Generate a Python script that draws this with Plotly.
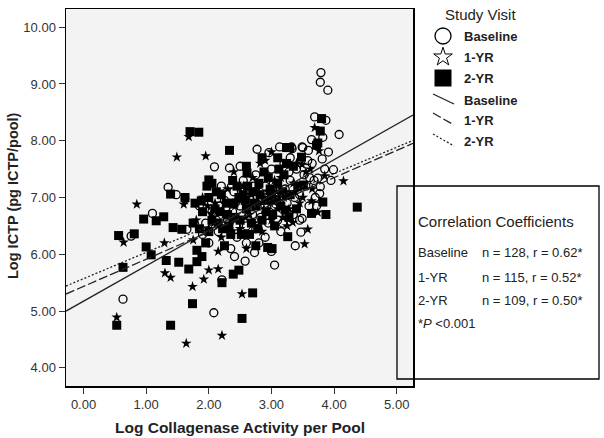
import plotly.graph_objects as go

FW, FH = 604, 438

# ---------------- data ----------------
series_names = ["Baseline", "1-YR", "2-YR"]

baseline_points = [
    (3.79, 9.20), (3.78, 9.03), (3.90, 8.89), (3.69, 8.42), (3.87, 8.36), (4.08, 8.11),
    (3.82, 8.06), (3.64, 8.02), (3.91, 7.80), (3.59, 7.83), (3.50, 7.88), (3.33, 7.86),
    (3.81, 7.68), (3.99, 7.49), (3.74, 7.34), (3.61, 7.35), (3.78, 7.19), (3.77, 7.07),
    (2.77, 7.85), (2.96, 7.79), (3.13, 7.89), (3.32, 7.89), (3.49, 7.89), (2.09, 7.54),
    (2.33, 7.52), (1.35, 7.18), (1.48, 7.05), (1.10, 6.72), (0.76, 6.32), (0.63, 5.21),
    (2.21, 5.55), (3.05, 5.81), (2.08, 4.97), (2.41, 5.96), (2.58, 5.88), (2.73, 6.03),
    (3.45, 6.60), (3.49, 6.63), (3.47, 6.39), (1.65, 6.44),
    (1.85, 6.85), (1.95, 6.55), (2.05, 6.75), (2.15, 6.40), (2.25, 6.95), (2.30, 6.60),
    (2.40, 7.10), (2.45, 6.30), (2.50, 6.85), (2.55, 7.30), (2.60, 6.50), (2.65, 7.00),
    (2.70, 6.70), (2.75, 7.40), (2.80, 6.20), (2.85, 6.95), (2.90, 7.20), (2.95, 6.55),
    (3.00, 7.50), (3.05, 6.85), (3.10, 7.10), (3.15, 6.40), (3.20, 7.60), (3.25, 6.90),
    (3.30, 7.30), (3.35, 6.70), (3.40, 7.50), (3.45, 7.05), (3.55, 7.20), (3.60, 6.85),
    (3.65, 7.60), (3.70, 7.00), (2.00, 6.20), (2.35, 6.10), (2.60, 6.20), (2.90, 6.30),
    (3.10, 6.60), (2.20, 7.20), (1.90, 6.35), (3.85, 7.50), (3.95, 7.30), (3.30, 7.70),
    (2.50, 7.55), (3.00, 6.05), (2.75, 6.45), (3.38, 6.15),
    (2.12, 6.60), (2.27, 6.80), (2.43, 6.50), (2.52, 7.10), (2.63, 6.90), (2.72, 7.20),
    (2.83, 6.65), (2.93, 7.00), (3.03, 7.25), (3.13, 6.90), (3.22, 7.15), (3.28, 7.45),
    (3.37, 7.00), (3.52, 7.40), (3.58, 7.65), (3.68, 7.30), (3.72, 6.85), (2.38, 6.75),
    (2.18, 6.85), (3.18, 6.55),
]

yr1_points = [
    (3.69, 8.23), (3.76, 7.82), (3.49, 7.58), (4.15, 7.29), (3.85, 7.38), (1.68, 8.07),
    (1.95, 7.73), (1.49, 7.71), (2.82, 7.60), (3.00, 7.80), (1.60, 6.88), (0.85, 6.88),
    (0.64, 6.21), (1.29, 6.20), (1.30, 5.67), (1.39, 5.59), (1.74, 5.43), (0.53, 4.89),
    (1.64, 4.43), (2.04, 6.72), (2.00, 5.72), (2.15, 5.74), (1.92, 5.56), (2.53, 5.30),
    (2.21, 4.57), (3.74, 6.74), (3.64, 6.94), (3.34, 6.56), (3.58, 6.44), (3.53, 6.18),
    (1.62, 6.95),
    (1.80, 6.60), (1.90, 7.00), (2.00, 6.45), (2.10, 6.90), (2.20, 6.30), (2.30, 7.15),
    (2.35, 6.60), (2.45, 6.95), (2.50, 6.45), (2.55, 7.20), (2.65, 6.70), (2.70, 7.35),
    (2.80, 6.90), (2.85, 6.40), (2.95, 7.10), (3.05, 7.30), (3.10, 6.80), (3.20, 7.00),
    (3.25, 6.50), (3.35, 7.25), (3.45, 6.90), (3.55, 7.45), (3.65, 7.15), (2.40, 7.45),
    (2.15, 6.05), (2.60, 6.10), (3.00, 6.60), (1.75, 6.25), (2.90, 7.65), (3.40, 7.60),
    (2.08, 6.55), (2.25, 6.70), (2.42, 6.85), (2.58, 6.65), (2.68, 7.05), (2.78, 7.15),
    (2.88, 6.80), (2.98, 6.90), (3.08, 7.10), (3.15, 7.35), (3.28, 6.80), (3.38, 7.10),
    (3.50, 7.00), (3.62, 7.50), (1.98, 6.85), (2.32, 6.45), (2.72, 6.55), (3.18, 6.65),
]

yr2_points = [
    (3.80, 8.39), (3.78, 8.17), (3.74, 7.96), (3.72, 7.92), (3.24, 7.88), (3.29, 7.88),
    (3.48, 7.71), (3.24, 7.60), (3.51, 7.22), (1.70, 8.16), (1.84, 8.15), (2.33, 7.83),
    (2.00, 7.31), (2.05, 7.25), (1.97, 7.20), (2.61, 7.43), (4.37, 6.83), (3.82, 6.92),
    (3.64, 6.72), (3.87, 6.70), (1.62, 7.00), (1.88, 6.94), (1.39, 7.06), (0.96, 6.62),
    (1.16, 6.59), (1.28, 6.66), (1.43, 6.47), (1.57, 6.44), (0.56, 6.33), (0.81, 6.36),
    (1.00, 6.13), (1.08, 5.99), (0.63, 5.77), (1.32, 5.89), (1.52, 5.86), (1.68, 5.74),
    (1.74, 5.13), (0.53, 4.75), (1.39, 4.75), (1.81, 6.07), (1.81, 5.87), (2.39, 5.65),
    (2.48, 5.72), (2.21, 5.50), (2.70, 5.32), (2.53, 4.87), (3.01, 6.10), (2.94, 6.12),
    (1.89, 5.96), (3.22, 6.78), (3.26, 6.31),
    (1.75, 6.55), (1.90, 6.75), (2.00, 6.40), (2.10, 6.80), (2.15, 6.55), (2.20, 7.05),
    (2.30, 6.70), (2.35, 6.35), (2.40, 6.90), (2.50, 6.60), (2.55, 7.05), (2.60, 6.80),
    (2.65, 6.35), (2.70, 7.10), (2.75, 6.85), (2.80, 7.25), (2.85, 6.60), (2.90, 6.95),
    (2.95, 7.35), (3.00, 7.00), (3.05, 6.50), (3.10, 7.25), (3.15, 6.85), (3.20, 7.40),
    (3.30, 7.05), (3.40, 6.80), (2.45, 7.20), (2.25, 6.15), (2.60, 7.55), (2.00, 7.00),
    (1.95, 6.20), (2.85, 7.70), (3.10, 7.70), (2.75, 6.15),
    (2.05, 6.60), (2.12, 7.10), (2.18, 6.75), (2.28, 6.90), (2.32, 6.50), (2.38, 7.30),
    (2.42, 6.65), (2.48, 7.00), (2.52, 6.35), (2.58, 6.95), (2.62, 7.20), (2.68, 6.55),
    (2.72, 6.90), (2.78, 6.45), (2.82, 7.05), (2.88, 7.45), (2.92, 6.75), (2.98, 7.15),
    (3.02, 6.70), (3.08, 6.95), (3.12, 7.50), (3.18, 7.10), (3.28, 6.65), (3.35, 7.55),
    (3.42, 7.20), (1.85, 6.45), (1.78, 6.90), (2.22, 6.45),
]

reg_intercepts = [5.174, 5.434, 5.570]
reg_slopes = [0.623, 0.479, 0.463]
n_values = [128, 115, 109]
r_values = [0.62, 0.52, 0.50]

x_ticks = [0, 1, 2, 3, 4, 5]
y_ticks = [4, 5, 6, 7, 8, 9, 10]
x_range = [-0.28, 5.26]
y_range = [3.68, 10.32]

x_title = "Log Collagenase Activity per Pool"
y_title = "Log ICTP (pg ICTP/pool)"
legend_title = "Study Visit"
box_title = "Correlation Coefficients"
p_note = "*<i>P</i> <0.001"

# ---------------- layout helpers (pixel -> paper) ----------------
PLOT_TOP, PLOT_BOT = 9, 386
PH = PLOT_BOT - PLOT_TOP


def px2paper(px):
    return px / FW


def py2paper(py):
    return (PLOT_BOT - py) / PH


FONT = "Liberation Sans, Arial, sans-serif"
TXT = "#222222"
marker_styles = [
    dict(symbol="circle-open", size=8, color="black", line=dict(width=1.3, color="black")),
    dict(symbol="star", size=8, color="black", line=dict(width=0)),
    dict(symbol="square", size=9, color="black", line=dict(width=0)),
]
line_dashes = ["solid", "9px,3px", "2px,2px"]

fig = go.Figure()

# scatter (squares first, then stars, then circles)
all_points = [baseline_points, yr1_points, yr2_points]
for i in [2, 1, 0]:
    pts = all_points[i]
    fig.add_trace(go.Scatter(
        x=[p[0] for p in pts], y=[p[1] for p in pts], mode="markers",
        marker=marker_styles[i], name=series_names[i], showlegend=False,
        xaxis="x", yaxis="y",
    ))

# regression lines
for i in range(3):
    xs = list(x_range)
    ys = [reg_intercepts[i] + reg_slopes[i] * v for v in xs]
    fig.add_trace(go.Scatter(
        x=xs, y=ys, mode="lines", showlegend=False,
        line=dict(color="#222222", width=1.3, dash=line_dashes[i]),
        xaxis="x", yaxis="y",
    ))

# ---------------- custom legend (pixel coordinate subplot) ----------------
LEG_X0 = 417
leg_marker_y = [36, 57, 78]
leg_line_y = [(94, 104), (113, 125), (134, 146)]
leg_marker_styles = [
    dict(symbol="circle-open", size=16, color="black", line=dict(width=1.3, color="black")),
    dict(symbol="star-open", size=14, color="black", line=dict(width=1.0, color="black")),
    dict(symbol="square", size=17, color="black", line=dict(width=0)),
]
for i in range(3):
    fig.add_trace(go.Scatter(
        x=[443], y=[leg_marker_y[i]], mode="markers", marker=leg_marker_styles[i],
        showlegend=False, xaxis="x2", yaxis="y2", hoverinfo="skip", cliponaxis=False,
    ))
    y0, y1 = leg_line_y[i]
    fig.add_trace(go.Scatter(
        x=[433, 454], y=[y0, y1], mode="lines",
        line=dict(color="#222222", width=1.3, dash=line_dashes[i]),
        showlegend=False, xaxis="x2", yaxis="y2", hoverinfo="skip",
    ))

annotations = []
annotations.append(dict(x=480, y=14, xref="x2", yref="y2", text=legend_title, showarrow=False,
                        font=dict(family=FONT, size=15, color=TXT), xanchor="center", yanchor="middle"))
for i in range(3):
    annotations.append(dict(x=462, y=leg_marker_y[i], xref="x2", yref="y2",
                            text="<b>%s</b>" % series_names[i], showarrow=False,
                            font=dict(family=FONT, size=13, color=TXT), xanchor="left", yanchor="middle"))
    annotations.append(dict(x=462, y=(leg_line_y[i][0] + leg_line_y[i][1]) / 2 + 1, xref="x2", yref="y2",
                            text="<b>%s</b>" % series_names[i], showarrow=False,
                            font=dict(family=FONT, size=13, color=TXT), xanchor="left", yanchor="middle"))

# ---------------- correlation box ----------------
annotations.append(dict(x=px2paper(416), y=py2paper(221), xref="paper", yref="paper", text=box_title,
                        showarrow=False, font=dict(family=FONT, size=15, color=TXT),
                        xanchor="left", yanchor="middle"))
row_y = [253, 277, 300]
for i in range(3):
    annotations.append(dict(x=px2paper(416), y=py2paper(row_y[i]), xref="paper", yref="paper",
                            text=series_names[i], showarrow=False,
                            font=dict(family=FONT, size=13, color=TXT), xanchor="left", yanchor="middle"))
    annotations.append(dict(x=px2paper(480), y=py2paper(row_y[i]), xref="paper", yref="paper",
                            text="n = %d, r = %.2f*" % (n_values[i], r_values[i]), showarrow=False,
                            font=dict(family=FONT, size=13, color=TXT), xanchor="left", yanchor="middle"))
annotations.append(dict(x=px2paper(416), y=py2paper(323), xref="paper", yref="paper", text=p_note,
                        showarrow=False, font=dict(family=FONT, size=13, color=TXT),
                        xanchor="left", yanchor="middle"))

# axis titles
annotations.append(dict(x=px2paper(240), y=py2paper(427), xref="paper", yref="paper",
                        text="<b>%s</b>" % x_title, showarrow=False,
                        font=dict(family=FONT, size=15.5, color=TXT), xanchor="center", yanchor="middle"))
annotations.append(dict(x=px2paper(13), y=py2paper(196), xref="paper", yref="paper",
                        text="<b>%s</b>" % y_title, showarrow=False, textangle=-90,
                        font=dict(family=FONT, size=14.5, color=TXT), xanchor="center", yanchor="middle"))

shapes = [
    # plot background
    dict(type="rect", xref="x domain", yref="y domain", x0=0, x1=1, y0=0, y1=1,
         fillcolor="#f3f3f3", line=dict(width=0), layer="below"),
    # correlation box
    dict(type="rect", xref="paper", yref="paper", x0=px2paper(397), x1=px2paper(599),
         y0=py2paper(379), y1=py2paper(186), line=dict(color="black", width=1.3),
         fillcolor="rgba(0,0,0,0)", layer="above"),
]

axis_common = dict(showline=True, linecolor="black", linewidth=1.5, mirror=True,
                   ticks="outside", ticklen=6, tickwidth=1, tickcolor="#333",
                   showgrid=False, zeroline=False,
                   tickfont=dict(family=FONT, size=13, color="#333"))

fig.update_layout(
    width=FW, height=FH,
    margin=dict(l=0, r=0, t=PLOT_TOP, b=FH - PLOT_BOT, pad=0),
    paper_bgcolor="white", plot_bgcolor="rgba(0,0,0,0)",
    xaxis=dict(domain=[px2paper(66), px2paper(413)], range=x_range, tickvals=x_ticks,
               ticktext=["%.2f" % v for v in x_ticks], anchor="y", **axis_common),
    yaxis=dict(domain=[0, 1], range=y_range, tickvals=y_ticks,
               ticktext=["%.2f" % v for v in y_ticks], anchor="x", **axis_common),
    xaxis2=dict(domain=[px2paper(LEG_X0), 1], range=[LEG_X0, FW], visible=False,
                anchor="y2", fixedrange=True),
    yaxis2=dict(domain=[0, 1], range=[PLOT_BOT, PLOT_TOP], visible=False, anchor="x2", fixedrange=True),
    annotations=annotations, shapes=shapes, showlegend=False, hovermode=False,
)

# remove the page's default body margin so the 604x438 figure fills the window exactly
fig.write_html(
    "out.html",
    config={"displayModeBar": False, "staticPlot": True},
    post_script="document.body.style.margin='0';document.body.style.overflow='hidden';",
)
